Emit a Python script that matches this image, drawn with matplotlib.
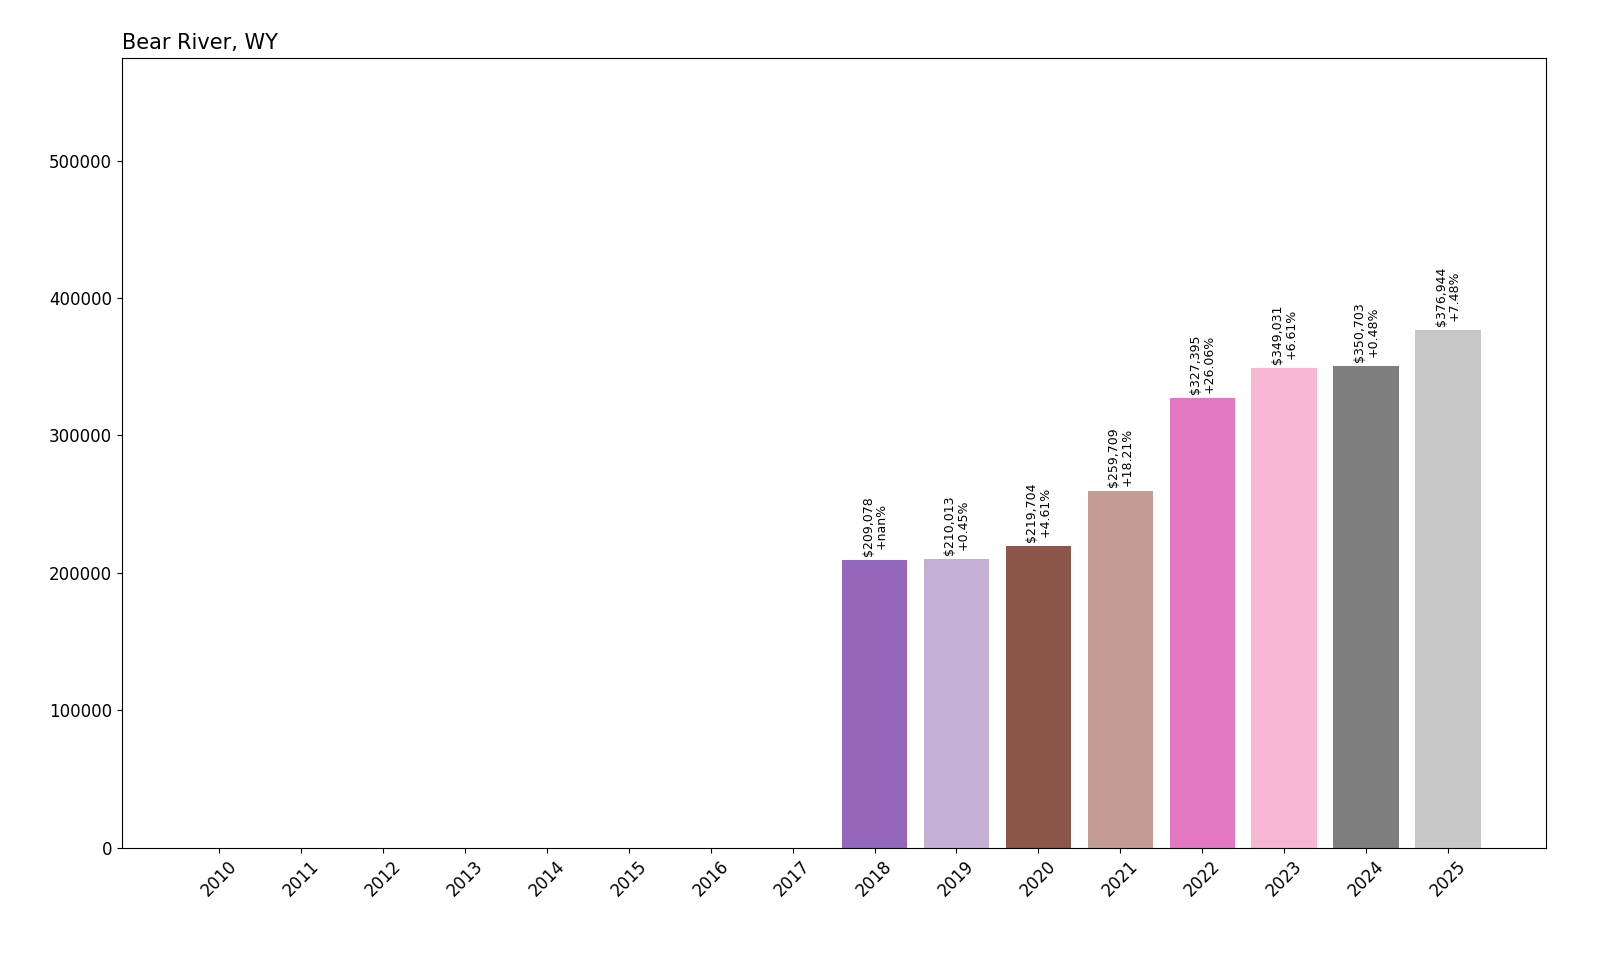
import numpy as np
import matplotlib.pyplot as plt

years = [str(y) for y in range(2010, 2026)]
values = [0, 0, 0, 0, 0, 0, 0, 0,
          209078, 210013, 219704, 259709, 327395, 349031, 350703, 376944]
changes = [None] * 8 + ['+nan%', '+0.45%', '+4.61%', '+18.21%',
                        '+26.06%', '+6.61%', '+0.48%', '+7.48%']

colors = plt.cm.tab20(np.arange(len(years)) % 20)

fig, ax = plt.subplots(figsize=(16, 9.6), dpi=100)
fig.subplots_adjust(left=0.076, right=0.966, top=0.94, bottom=0.117)

x = np.arange(len(years))
bars = ax.bar(x, values, color=colors)
for b, v, c in zip(bars, values, changes):
    if c is None:
        continue
    ax.text(b.get_x() + b.get_width() / 2, v + 3000, f'${v:,}\n{c}',
            rotation=90, ha='center', va='bottom', fontsize=9,
            linespacing=1.0)

ax.set_xticks(x)
ax.set_xticklabels(years, rotation=45, fontsize=12)
ax.tick_params(axis='y', labelsize=12)
ax.set_ylim(0, 575000)
ax.set_title('Bear River, WY', loc='left', fontsize=15)

plt.savefig('out.png')
